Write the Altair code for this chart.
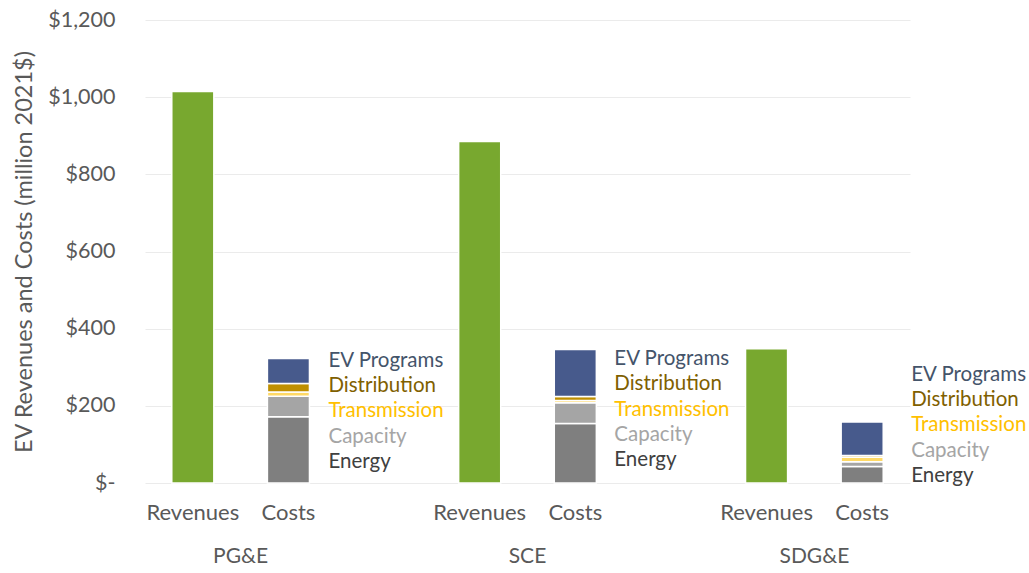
import altair as alt
import pandas as pd

# ---- data ----
groups = ["PG&E", "SCE", "SDG&E"]
revenues = [1015, 885, 348]
series = ["Energy", "Capacity", "Transmission", "Distribution", "EV Programs"]
energy = [172, 154, 43]
capacity = [53, 54, 12]
transmission = [11, 6, 12]
distribution = [22, 10, 4]
ev_programs = [65, 122, 87]
series_colors = ["#7F7F7F", "#A5A5A5", "#FFD966", "#BF8F00", "#475A8C"]
label_colors = ["#404040", "#A5A5A5", "#FFC000", "#7F6000", "#44546A"]
# y-value (million $) of the first ("EV Programs") label row for each group
label_anchor = [316, 321, 280]
label_dx = [40, 39, 49]
y_ticks = [0, 200, 400, 600, 800, 1000, 1200]

cats = []
for i, g in enumerate(groups):
    cats += [f"{g}|Revenues", f"{g}|Costs"]
    if i < len(groups) - 1:
        cats.append(f"gap{i}")

FONT = "Lato"
TXT = "#595959"
W, H = 765, 463

rev_df = pd.DataFrame({"cat": [f"{g}|Revenues" for g in groups], "value": revenues})
vals = [energy, capacity, transmission, distribution, ev_programs]
rows = []
for gi, g in enumerate(groups):
    for si, s in enumerate(series):
        rows.append({"cat": f"{g}|Costs", "series": s, "order": si, "value": vals[si][gi]})
cost_df = pd.DataFrame(rows)

xscale = alt.Scale(domain=cats, paddingInner=0.56, paddingOuter=0.28)
yscale = alt.Scale(domain=[0, 1200])

x_enc = alt.X(
    "cat:N",
    scale=xscale,
    sort=cats,
    title=None,
    axis=alt.Axis(
        labelExpr="indexof(datum.value, '|') >= 0 ? split(datum.value, '|')[1] : ''",
        labelAngle=0,
        labelFont=FONT,
        labelFontSize=22,
        labelColor=TXT,
        labelPadding=19,
        ticks=False,
        domain=False,
        grid=False,
    ),
)
y_axis = alt.Axis(
    values=y_ticks,
    labelExpr="datum.value == 0 ? '$-\u00a0\u00a0' : '$' + format(datum.value, ',')",
    labelFont=FONT,
    labelFontSize=21.5,
    labelColor=TXT,
    labelPadding=30,
    ticks=False,
    domain=False,
    grid=True,
    gridColor="#EBEBEB",
    gridWidth=1,
    title="EV Revenues and Costs (million 2021$)",
    titleFont=FONT,
    titleFontSize=23.5,
    titleFontWeight="normal",
    titleColor=TXT,
    titlePadding=11,
)

rev = alt.Chart(rev_df).mark_bar(color="#78A82F", stroke="white", strokeWidth=1.5).encode(
    x=x_enc,
    y=alt.Y("value:Q", scale=yscale, axis=y_axis),
)

costs = alt.Chart(cost_df).mark_bar(stroke="white", strokeWidth=1.5).encode(
    x=alt.X("cat:N", scale=xscale, sort=cats),
    y=alt.Y("value:Q", scale=yscale, stack="zero"),
    color=alt.Color("series:N", scale=alt.Scale(domain=series, range=series_colors), legend=None),
    order=alt.Order("order:Q"),
)

layers = [rev, costs]

# series name labels next to each Costs bar
for gi, g in enumerate(groups):
    for k, si in enumerate(reversed(range(len(series)))):
        df = pd.DataFrame({"cat": [f"{g}|Costs"], "y": [label_anchor[gi]], "label": [series[si]]})
        layers.append(
            alt.Chart(df).mark_text(
                align="left", baseline="middle", dx=label_dx[gi], dy=k * 25.2,
                font=FONT, fontSize=20.5, color=label_colors[si],
            ).encode(
                x=alt.X("cat:N", scale=xscale, sort=cats),
                y=alt.Y("y:Q", scale=yscale),
                text="label:N",
            )
        )

# group labels under the axis
grp_df = pd.DataFrame({"cat": [f"{g}|Costs" for g in groups], "label": groups})
layers.append(
    alt.Chart(grp_df).mark_text(
        align="center", baseline="middle", dx=-47.8, font=FONT, fontSize=21, color=TXT,
    ).encode(
        x=alt.X("cat:N", scale=xscale, sort=cats),
        y=alt.value(H + 74),
        text="label:N",
    )
)

chart = alt.layer(*layers).properties(
    width=W,
    height=H,
    autosize=alt.AutoSizeParams(type="none"),
    padding={"left": 145, "top": 20, "right": 119, "bottom": 90},
    background="white",
).configure_view(stroke=None)

chart.save("out.html", embed_options={"renderer": "svg", "actions": False})
